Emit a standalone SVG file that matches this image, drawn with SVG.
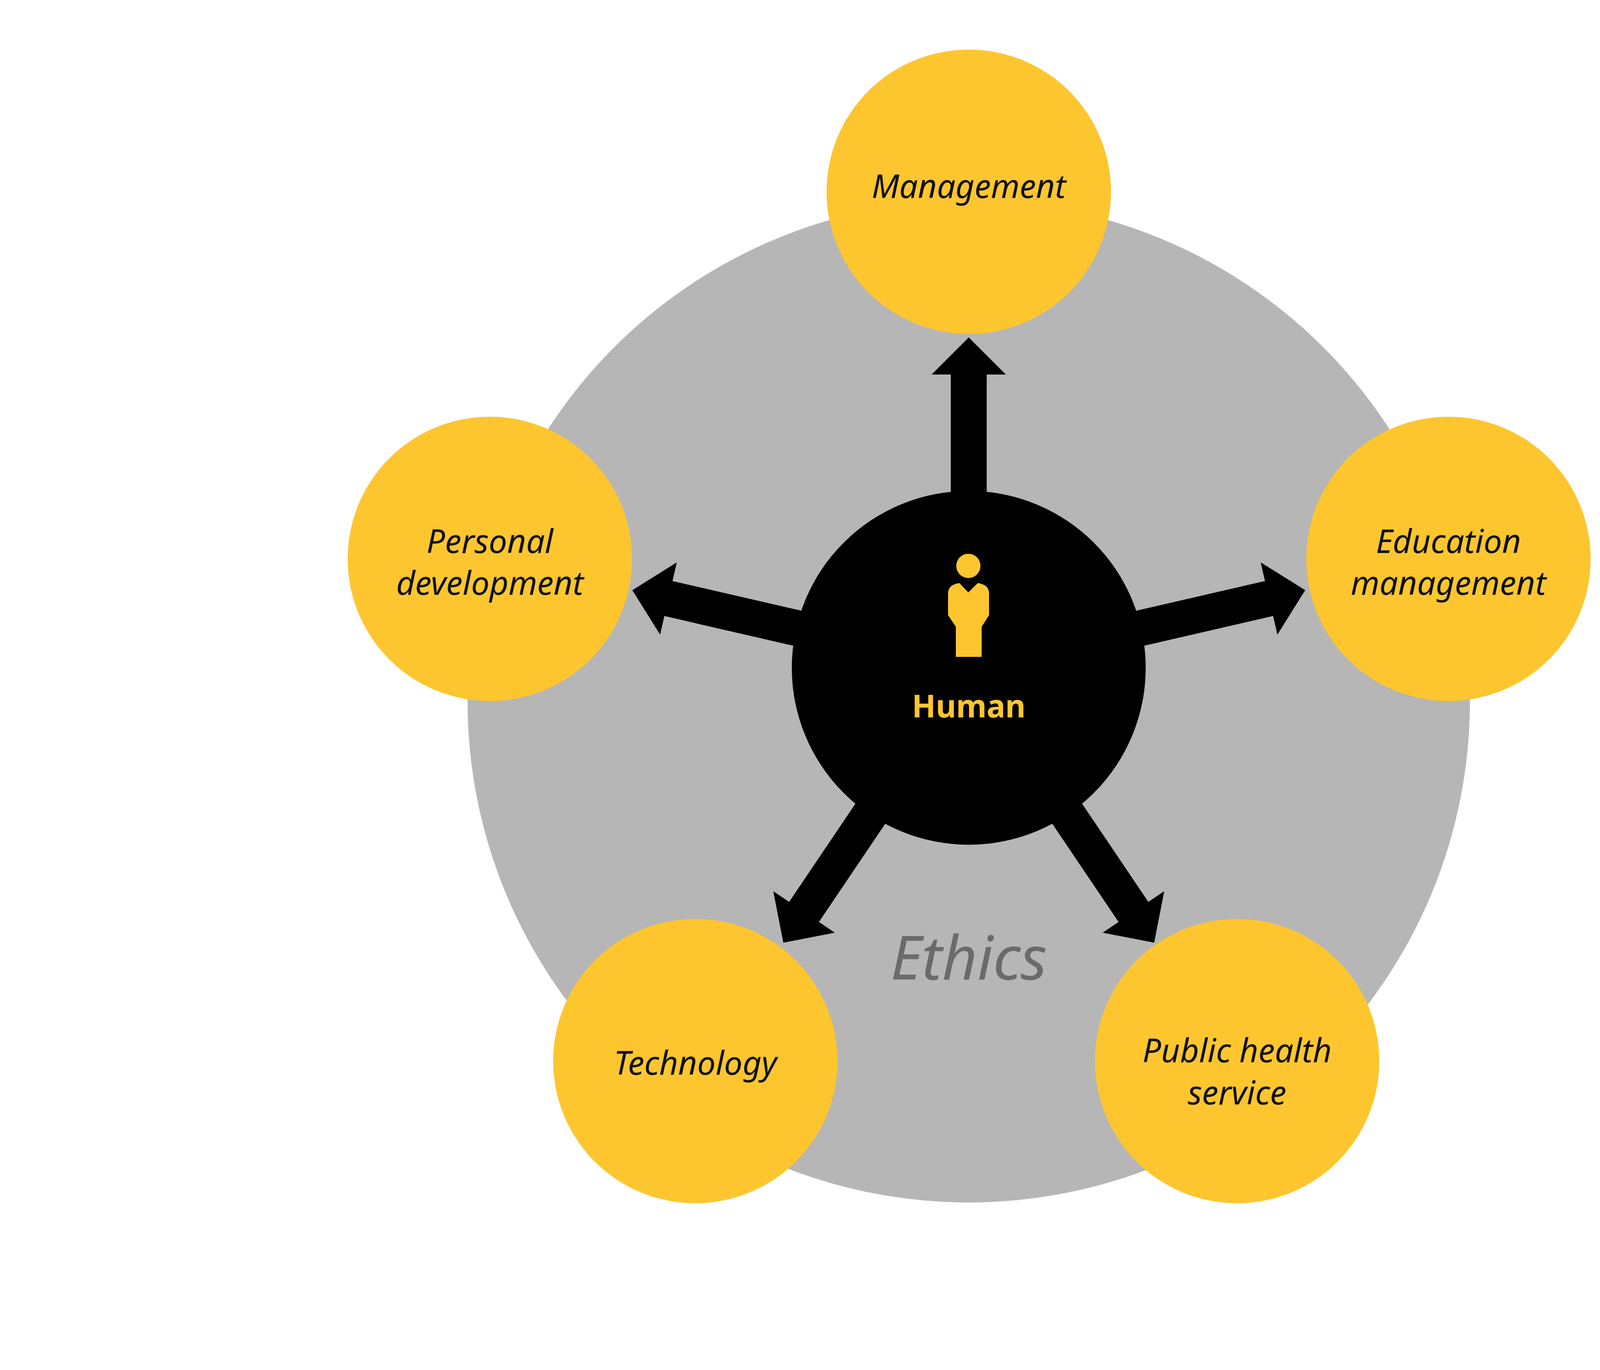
<svg xmlns="http://www.w3.org/2000/svg" width="4961" height="3508" viewBox="0 0 4961 3508">
<style>
.node{fill:#fdc62f}
.lbl{font-family:"Noto Sans","Liberation Sans",sans-serif;font-style:italic;font-size:84px;fill:#111;text-anchor:middle}
.arr{fill:#000}
</style>
<rect width="4961" height="3508" fill="#fff"/>
<g id="ethics">
<circle cx="2480" cy="1796" r="1283" fill="#b6b6b6"/>
<text x="2480" y="2508" font-family="Noto Sans,Liberation Sans,sans-serif" font-style="italic" font-size="156" fill="#6b6b6b" text-anchor="middle">Ethics</text>
</g>
<g id="connectors" transform="translate(2480,1710)">
<polygon class="arr" points="-46,0 -46,-751 -95,-751 0,-846 95,-751 46,-751 46,0"/>
<polygon class="arr" transform="rotate(-77)" points="-46,0 -46,-789 -95,-789 0,-884 95,-789 46,-789 46,0"/>
<polygon class="arr" transform="rotate(77)" points="-46,0 -46,-789 -95,-789 0,-884 95,-789 46,-789 46,0"/>
<polygon class="arr" transform="rotate(-146)" points="-46,0 -46,-754 -95,-754 0,-849 95,-754 46,-754 46,0"/>
<polygon class="arr" transform="rotate(146)" points="-46,0 -46,-754 -95,-754 0,-849 95,-754 46,-754 46,0"/>
</g>
<g id="human">
<circle cx="2480" cy="1710" r="453" fill="#000"/>
<circle cx="2479" cy="1449" r="31" class="node"/>
<path class="node" d="M2456,1493 L2479,1517 L2503,1493 Q2532,1497 2532,1520 L2532,1575 L2513,1605 L2513,1682 L2447,1682 L2447,1605 L2427,1575 L2427,1520 Q2427,1497 2456,1493 Z"/>
<text x="2480" y="1837" font-family="Noto Sans,Liberation Sans,sans-serif" font-weight="bold" font-size="80" fill="#fdc62f" text-anchor="middle">Human</text>
</g>
<g id="management"><circle class="node" cx="2480" cy="491" r="364"/><text class="lbl" x="2480" y="507">Management</text></g>
<g id="personal"><circle class="node" cx="1254" cy="1431" r="364"/><text class="lbl" x="1254" y="1416">Personal</text><text class="lbl" x="1254" y="1523">development</text></g>
<g id="education"><circle class="node" cx="3708" cy="1431" r="364"/><text class="lbl" x="3708" y="1416">Education</text><text class="lbl" x="3708" y="1523">management</text></g>
<g id="technology"><circle class="node" cx="1780" cy="2717" r="364"/><text class="lbl" x="1780" y="2752">Technology</text></g>
<g id="public"><circle class="node" cx="3167" cy="2717" r="364"/><text class="lbl" x="3167" y="2720">Public health</text><text class="lbl" x="3167" y="2828">service</text></g>
</svg>
